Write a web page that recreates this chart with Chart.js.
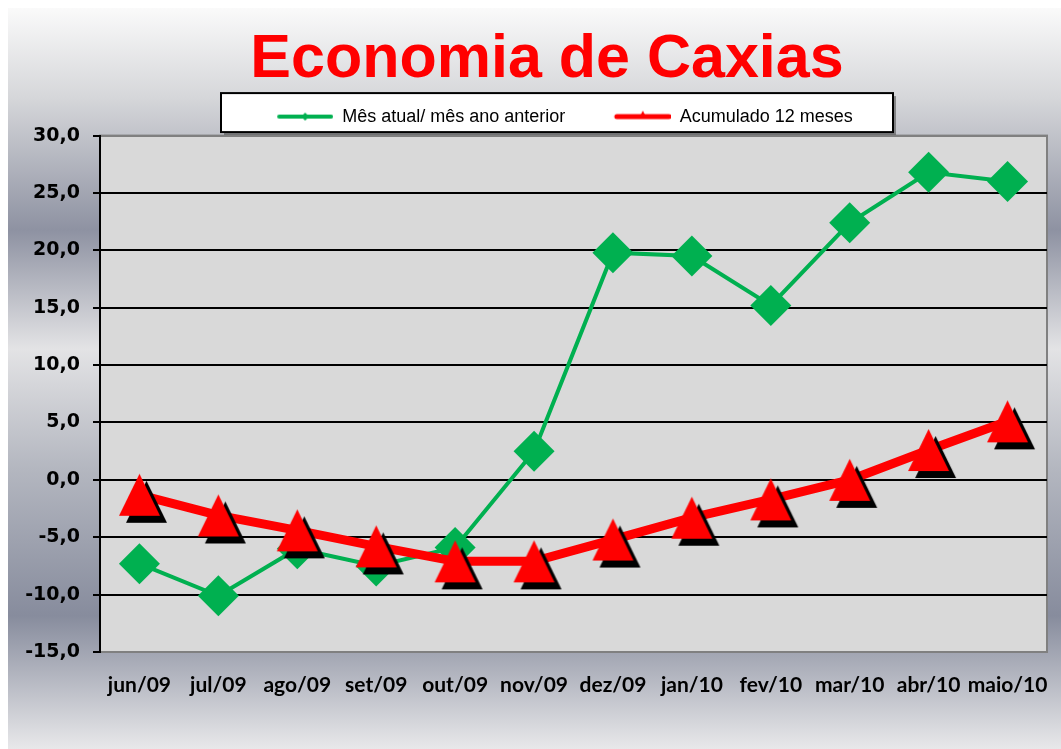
<!DOCTYPE html>
<html>
<head>
<meta charset="utf-8">
<title>Economia de Caxias</title>
<script src="https://cdn.jsdelivr.net/npm/chart.js@4.4.0/dist/chart.umd.min.js"></script>
<style>
  html, body { margin: 0; padding: 0; background: #fff; }
  #wrap { position: relative; width: 1061px; height: 749px; overflow: hidden; }
  #bg {
    position: absolute; left: 8px; top: 8px; right: 0; bottom: 0;
    background: linear-gradient(to bottom,
      #fafafa 0%, #d6d7da 12%, #8e92a2 30%, #e3e3e5 46%,
      #b4b7c0 62%, #878c9d 82%, #e8e8ea 100%);
  }
  #chart { position: absolute; left: 0; top: 0; }
</style>
</head>
<body>
<div id="wrap">
  <div id="bg"></div>
  <canvas id="chart" width="1061" height="749"></canvas>
</div>
<script>
const months = ['jun/09', 'jul/09', 'ago/09', 'set/09', 'out/09', 'nov/09',
  'dez/09', 'jan/10', 'fev/10', 'mar/10', 'abr/10', 'maio/10'];
const mesAtual = [-7.3, -10.1, -6.0, -7.5, -5.9, 2.5, 19.8, 19.5, 15.2, 22.4, 26.8, 26.0];
const acumulado = [-1.3, -3.1, -4.4, -5.8, -7.1, -7.1, -5.2, -3.3, -1.7, 0.0, 2.6, 5.1];
const yTicks = [-15, -10, -5, 0, 5, 10, 15, 20, 25, 30];

const GREEN = '#00b050';
const RED = '#ff0000';

// red triangle marker with a hard black drop shadow, like the Excel one
function triangleMarker() {
  const w = 41, h = 42, pad = 8, off = 7;
  const c = document.createElement('canvas');
  c.width = w + pad * 2;
  c.height = h + pad * 2;
  const g = c.getContext('2d');
  const tri = (dx, dy, color) => {
    g.beginPath();
    g.moveTo(pad + w / 2 + dx, pad + dy);
    g.lineTo(pad + w + dx, pad + h + dy);
    g.lineTo(pad + dx, pad + h + dy);
    g.closePath();
    g.fillStyle = color;
    g.fill();
  };
  tri(off, off, '#000');
  tri(0, 0, RED);
  return c;
}

// small line + marker sample for the legend
function legendSample(color, lineW, shape) {
  const c = document.createElement('canvas');
  c.width = 92;
  c.height = 14;
  const g = c.getContext('2d');
  const x0 = 36, x1 = 92, cy = 7, mid = (x0 + x1) / 2;
  g.strokeStyle = color;
  g.lineWidth = lineW;
  g.lineCap = 'round';
  g.beginPath();
  g.moveTo(x0 + 2, cy);
  g.lineTo(x1 - 2, cy);
  g.stroke();
  g.fillStyle = color;
  g.beginPath();
  if (shape === 'diamond') {
    g.moveTo(mid, cy - 4); g.lineTo(mid + 4, cy); g.lineTo(mid, cy + 4); g.lineTo(mid - 4, cy);
  } else {
    g.moveTo(mid, cy - 6); g.lineTo(mid + 4, cy + 2); g.lineTo(mid - 4, cy + 2);
  }
  g.closePath();
  g.fill();
  return c;
}

const frames = {
  id: 'frames',
  beforeDraw(chart) {
    const { ctx, chartArea: a, legend } = chart;
    ctx.save();
    ctx.fillStyle = '#d9d9d9';
    ctx.fillRect(a.left, a.top, a.width, a.height);
    ctx.strokeStyle = '#808080';
    ctx.lineWidth = 2;
    ctx.strokeRect(a.left, a.top, a.width, a.height);

    const cx = (legend.left + legend.right) / 2 + 10;
    const bx = cx - 336, bw = 672, by = legend.top - 1, bh = 39;
    ctx.fillStyle = 'rgba(80,80,80,0.6)';
    ctx.fillRect(bx + 3, by + 3, bw, bh);
    ctx.fillStyle = '#fff';
    ctx.fillRect(bx, by, bw, bh);
    ctx.strokeStyle = '#000';
    ctx.lineWidth = 2;
    ctx.strokeRect(bx, by, bw, bh);
    ctx.restore();
  }
};

const greenSample = legendSample(GREEN, 4, 'diamond');
const redSample = legendSample(RED, 5, 'triangle');

new Chart(document.getElementById('chart'), {
  type: 'line',
  data: {
    labels: months,
    datasets: [{
      label: 'Acumulado 12 meses',
      data: acumulado,
      borderColor: RED,
      backgroundColor: RED,
      borderWidth: 9,
      pointStyle: triangleMarker(),
      pointRadius: 20,
      tension: 0,
      order: 0
    }, {
      label: 'Mês atual/ mês ano anterior',
      data: mesAtual,
      borderColor: GREEN,
      backgroundColor: GREEN,
      borderWidth: 4,
      pointStyle: 'rectRot',
      pointRadius: 20.5,
      pointBorderWidth: 0,
      tension: 0,
      order: 1
    }]
  },
  options: {
    responsive: false,
    animation: false,
    events: [],
    layout: { autoPadding: false, padding: { left: 47, right: 14, top: 0, bottom: 51 } },
    plugins: {
      tooltip: { enabled: false },
      title: {
        display: true,
        text: 'Economia de Caxias',
        color: RED,
        font: { family: '"Liberation Sans", Arial, sans-serif', size: 61, weight: 'bold', lineHeight: 1.1 },
        padding: { top: 27, bottom: 0 }
      },
      legend: {
        display: true,
        position: 'top',
        labels: {
          usePointStyle: true,
          pointStyleWidth: 92,
          padding: 13.5,
          color: '#000',
          font: { family: '"Liberation Sans", Arial, sans-serif', size: 18 },
          generateLabels: () => [
            { text: 'Mês atual/ mês ano anterior', pointStyle: greenSample, fillStyle: GREEN, strokeStyle: GREEN, lineWidth: 0, datasetIndex: 1 },
            { text: 'Acumulado 12 meses', pointStyle: redSample, fillStyle: RED, strokeStyle: RED, lineWidth: 0, datasetIndex: 0 }
          ]
        }
      }
    },
    scales: {
      x: {
        offset: true,
        grid: { display: false, drawTicks: false },
        border: { display: true, color: '#808080', width: 2 },
        afterFit: (s) => {
          s.height = 46;
          // let "maio/10" run off the right edge like the original
          s.paddingRight = 0;
        },
        ticks: {
          autoSkip: false,
          maxRotation: 0,
          minRotation: 0,
          padding: 21,
          color: '#000',
          font: { family: 'Lato, "Open Sans", sans-serif', size: 21, weight: 'bold' }
        }
      },
      y: {
        min: yTicks[0],
        max: yTicks[yTicks.length - 1],
        afterFit: (s) => {
          s.width = 53;
          // labels are wider than the axis box, don't clip them
          s._computeLabelArea = () => undefined;
        },
        afterBuildTicks: (s) => { s.ticks = yTicks.map(v => ({ value: v })); },
        grid: {
          color: (c) => (c.tick && (c.tick.value === 30 || c.tick.value === -15)) ? '#808080' : '#000',
          tickColor: '#000',
          lineWidth: 2,
          tickLength: 7,
          drawTicks: true
        },
        border: { display: true, color: '#000', width: 2 },
        ticks: {
          padding: 13,
          color: '#000',
          font: { family: '"DejaVu Sans", sans-serif', size: 19, weight: 'bold' },
          callback: (v) => Number(v).toFixed(1).replace('.', ',')
        }
      }
    }
  },
  plugins: [frames]
});
</script>
</body>
</html>
